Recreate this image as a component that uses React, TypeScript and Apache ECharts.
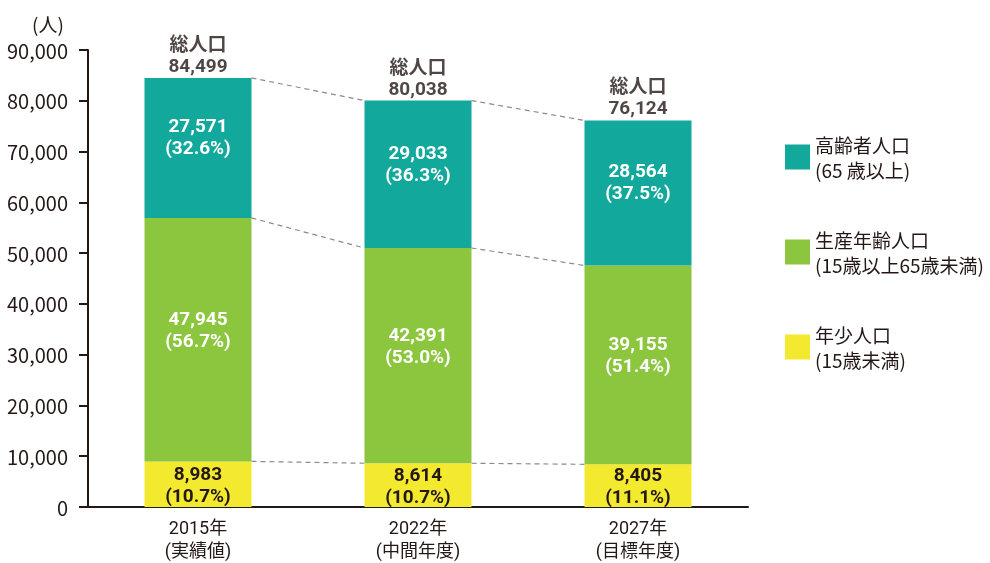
import React, { useEffect, useRef } from "react";
import * as echarts from "echarts";

const categories = ["2015年\n(実績値)", "2022年\n(中間年度)", "2027年\n(目標年度)"];
const elderly = [27571, 29033, 28564];
const working = [47945, 42391, 39155];
const young = [8983, 8614, 8405];
const totals = [84499, 80038, 76124];
const elderlyPct = ["32.6", "36.3", "37.5"];
const workingPct = ["56.7", "53.0", "51.4"];
const youngPct = ["10.7", "10.7", "11.1"];
const seriesNames = ["高齢者人口\n(65 歳以上)", "生産年齢人口\n(15歳以上65歳未満)", "年少人口\n(15歳未満)"];
const yTickLabels = ["0", "10,000", "20,000", "30,000", "40,000", "50,000", "60,000", "70,000", "80,000", "90,000"];

const FONT = "'Noto Sans CJK JP', sans-serif";
const NUMFONT = "Roboto, 'Noto Sans CJK JP', sans-serif";
const DARK = "#231815";
const TEAL = "#12A89B";
const GREEN = "#8CC63F";
const YELLOW = "#F3EA2F";
const BAR_W = 107;

const fmt = (v: number) => v.toLocaleString("en-US");

export default function App() {
  const ref = useRef<HTMLDivElement>(null);
  useEffect(() => {
    if (!ref.current) return;
    const chart = echarts.init(ref.current, null, { renderer: "svg" });
    const lvlTop = totals;
    const lvlMid = young.map((v, i) => v + working[i]);
    const lvlLow = young;
    const barLabel = (color: string, pct: string[], dy: number) => ({
      show: true,
      position: "inside",
      offset: [0, dy],
      color,
      fontFamily: NUMFONT,
      fontSize: 19,
      fontWeight: "bold",
      lineHeight: 22,
      formatter: (p: any) => `${fmt(p.value)}\n(${pct[p.dataIndex]}%)`,
    });
    chart.setOption({
      animation: false,
      textStyle: { fontFamily: FONT },
      grid: { left: 88, right: 242, top: 50, bottom: 56, containLabel: false },
      legend: {
        orient: "vertical",
        left: 780,
        top: 127,
        itemWidth: 25,
        itemHeight: 25,
        itemGap: 45,
        icon: "rect",
        selectedMode: false,
        data: seriesNames,
        textStyle: { fontFamily: FONT, fontSize: 19, lineHeight: 25, color: DARK },
      },
      graphic: [
        {
          type: "text",
          left: 32,
          top: 14,
          style: { text: "(人)", font: `19px ${FONT}`, fill: DARK },
        },
      ],
      xAxis: {
        type: "category",
        data: categories,
        axisLine: { lineStyle: { color: DARK, width: 2 } },
        axisTick: { show: false },
        axisLabel: { fontFamily: NUMFONT, fontSize: 18, lineHeight: 23, color: DARK, margin: 9 },
      },
      yAxis: {
        type: "value",
        min: 0,
        max: 90000,
        interval: 10000,
        splitLine: { show: false },
        axisLine: { show: true, lineStyle: { color: DARK, width: 2 } },
        axisTick: { show: true, length: 9, lineStyle: { color: DARK, width: 2 } },
        axisLabel: {
          fontFamily: FONT,
          fontSize: 20,
          color: DARK,
          margin: 20,
          formatter: (v: number) => yTickLabels[Math.round(v / 10000)],
        },
      },
      series: [
        {
          name: seriesNames[2],
          type: "bar",
          stack: "pop",
          barWidth: BAR_W,
          data: young,
          itemStyle: { color: YELLOW },
          label: barLabel(DARK, youngPct, 0),
        },
        {
          name: seriesNames[1],
          type: "bar",
          stack: "pop",
          barWidth: BAR_W,
          data: working,
          itemStyle: { color: GREEN },
          label: barLabel("#ffffff", workingPct, -10),
        },
        {
          name: seriesNames[0],
          type: "bar",
          stack: "pop",
          barWidth: BAR_W,
          data: elderly,
          itemStyle: { color: TEAL },
          label: barLabel("#ffffff", elderlyPct, -11),
        },
        {
          type: "scatter",
          symbolSize: 0,
          data: totals.map((v, i) => [i, v]),
          silent: true,
          label: {
            show: true,
            position: "top",
            distance: 2,
            color: DARK,
            fontFamily: NUMFONT,
            fontSize: 19,
            fontWeight: "bold",
            lineHeight: 21,
            formatter: (p: any) => `総人口\n${fmt(totals[p.dataIndex])}`,
          },
        },
        {
          type: "custom",
          silent: true,
          data: [[0, 0], [1, 0]],
          renderItem: (params: any, api: any) => {
            const i = params.dataIndex;
            const children = [lvlTop, lvlMid, lvlLow].map((lvl) => {
              const p1 = api.coord([i, lvl[i]]);
              const p2 = api.coord([i + 1, lvl[i + 1]]);
              return {
                type: "line",
                shape: { x1: p1[0] + BAR_W / 2, y1: p1[1], x2: p2[0] - BAR_W / 2, y2: p2[1] },
                style: { stroke: "#8a8a8a", lineWidth: 1.2, lineDash: [5, 4] },
              };
            });
            return { type: "group", children };
          },
        },
      ],
    });
    return () => chart.dispose();
  }, []);
  return <div ref={ref} style={{ position: "fixed", left: 0, top: 0, width: 990, height: 563 }} />;
}
